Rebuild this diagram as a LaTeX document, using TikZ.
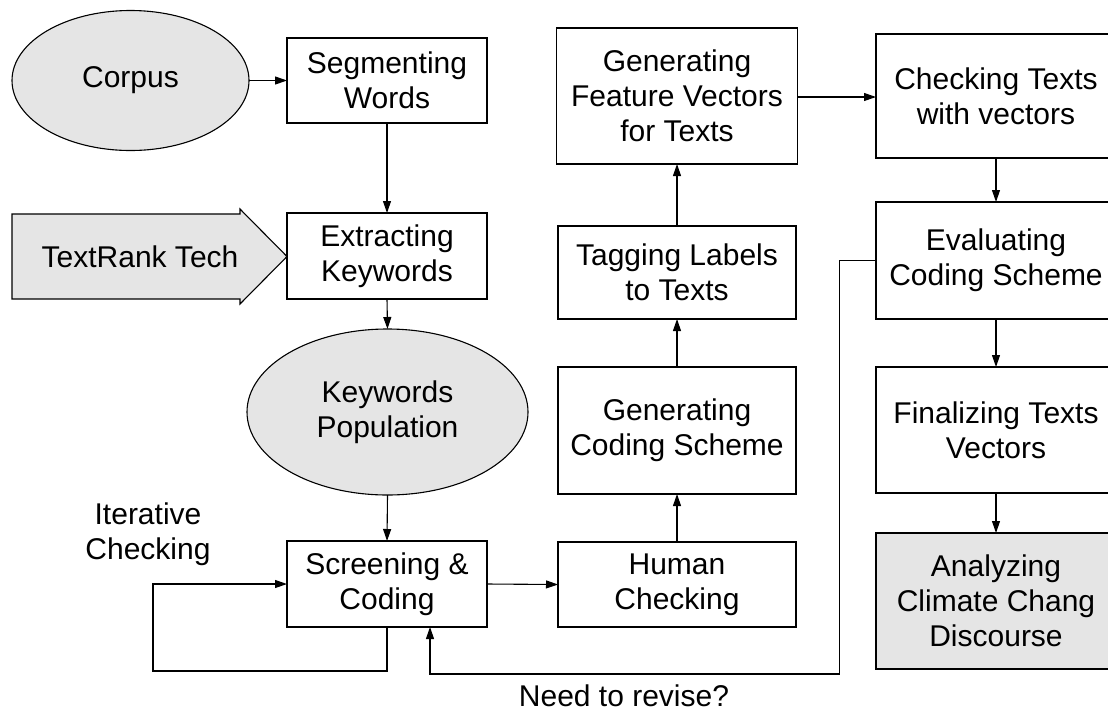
\documentclass[tikz,border=0pt]{standalone}
\usepackage{fontspec}
\setmainfont{Liberation Sans}
\usetikzlibrary{arrows.meta,shapes.geometric}
\definecolor{shadegray}{RGB}{229,229,229}
\begin{document}
\begin{tikzpicture}[x=1pt,y=-1pt,
  every node/.style={font=\fontsize{30}{35}\selectfont, align=center, inner sep=0pt, outer sep=0pt},
  box/.style={draw, line width=1.1pt, rectangle},
  oval/.style={draw, ellipse, fill=shadegray, line width=1.1pt},
  arr/.style={-{Triangle[length=12pt,width=8pt]}, line width=1.1pt}]
\useasboundingbox (0,0) rectangle (1108,713);

% left column
\node[oval, minimum width=237, minimum height=140] (corpus) at (130.5,80.5) {Corpus};
\node[box, minimum width=200, minimum height=85] (seg) at (387,80.5) {Segmenting\\Words};
\node[box, minimum width=200, minimum height=86] (ext) at (387,256) {Extracting\\Keywords};
\node[oval, minimum width=281, minimum height=166] (kp) at (387.5,412) {Keywords\\Population};
\node[box, minimum width=200, minimum height=86] (scr) at (387,584) {Screening \&\\Coding};

% TextRank block arrow
\path[draw, fill=shadegray, line width=1.1pt]
  (12,214) -- (240,214) -- (240,209) -- (287,256.5) -- (240,304) -- (240,299) -- (12,299) -- cycle;
\node (tr) at (140,256.5) {TextRank Tech};

% middle column
\node[box, minimum width=241, minimum height=136] (feat) at (677,96) {Generating\\Feature Vectors\\for Texts};
\node[box, minimum width=238, minimum height=93] (tag) at (677,272.5) {Tagging Labels\\to Texts};
\node[box, minimum width=238, minimum height=127] (gcs) at (677,430.5) {Generating\\Coding Scheme};
\node[box, minimum width=238, minimum height=85] (hum) at (677,584.5) {Human\\Checking};

% right column
\node[box, minimum width=240, minimum height=124] (chk) at (996,96) {Checking Texts\\with vectors};
\node[box, minimum width=240, minimum height=117] (eval) at (996,260.5) {Evaluating\\Coding Scheme};
\node[box, minimum width=240, minimum height=126] (fin) at (996,430) {Finalizing Texts\\Vectors};
\node[box, fill=shadegray, minimum width=240, minimum height=136] (ana) at (996,601) {Analyzing\\Climate Chang\\Discourse};

% labels
\node (itlab) at (148,534) {Iterative\\Checking};
\node[anchor=base] (revlab) at (624,706) {Need to revise?};

% connectors
\draw[arr] (corpus.east) -- (seg.west);
\draw[arr] (seg.south) -- (ext.north);
\draw[arr] (ext.south) -- (kp.north);
\draw[arr] (kp.south) -- (scr.north);
\draw[arr] (scr.east) -- (hum.west);
\draw[arr] (hum.north) -- (gcs.south);
\draw[arr] (gcs.north) -- (tag.south);
\draw[arr] (tag.north) -- (feat.south);
\draw[arr] (feat.east |- 0,97) -- (chk.west |- 0,97);
\draw[arr] (chk.south) -- (eval.north);
\draw[arr] (eval.south) -- (fin.north);
\draw[arr] (fin.south) -- (ana.north);

% iterative loop
\coordinate (itcorner) at (153,671);
\draw[arr] (scr.south) |- (itcorner) |- (scr.west);

% revision loop
\coordinate (revtop) at (839.5,260.5);
\coordinate (revbot) at (839.5,674);
\coordinate (revleft) at (430,674);
\draw[arr] (eval.west) -- (revtop) -- (revbot) -- (revleft) -- (revleft |- scr.south);
\end{tikzpicture}
\end{document}
